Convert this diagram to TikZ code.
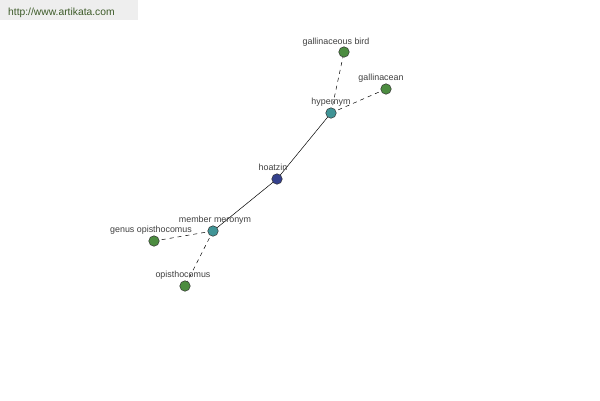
\documentclass[tikz,border=0pt]{standalone}
\usepackage{fontspec}
\setmainfont{Liberation Sans}
\definecolor{nodegreen}{RGB}{76,140,64}
\definecolor{nodeteal}{RGB}{64,148,150}
\definecolor{nodeblue}{RGB}{52,64,140}
\definecolor{labelgray}{RGB}{64,64,64}
\definecolor{urlbg}{RGB}{238,238,238}
\definecolor{urltext}{RGB}{60,90,40}
\begin{document}
\begin{tikzpicture}[x=1pt,y=-1pt,
  dot/.style={circle,draw=black!80,line width=0.5pt,minimum size=10.5pt,inner sep=0pt},
  lbl/.style={font=\fontsize{8.9}{10}\selectfont,text=labelgray,inner sep=0pt,anchor=base},
  rel/.style={line width=0.5pt,black},
  weak/.style={line width=0.5pt,black,dash pattern=on 4pt off 4pt}]
\useasboundingbox[fill=white] (0,0) rectangle (600,400);
\fill[urlbg] (0,0) rectangle (138,20);
\node[font=\fontsize{10.3}{11}\selectfont,text=urltext,anchor=base west,inner sep=0pt] (url) at (8,15) {http://www.artikata.com};

\coordinate (pGB) at (344,52);
\coordinate (pGA) at (386,89);
\coordinate (pHY) at (331,113);
\coordinate (pHO) at (277,179);
\coordinate (pMM) at (213,231);
\coordinate (pGO) at (154,241);
\coordinate (pOP) at (185,286);

\draw[rel] (pHO) -- (pHY);
\draw[rel] (pHO) -- (pMM);
\draw[weak] (pHY) -- (pGB);
\draw[weak] (pHY) -- (pGA);
\draw[weak] (pMM) -- (pGO);
\draw[weak] (pMM) -- (pOP);

\node[dot,fill=nodegreen] (gb) at (pGB) {};
\node[dot,fill=nodegreen] (ga) at (pGA) {};
\node[dot,fill=nodeteal] (hy) at (pHY) {};
\node[dot,fill=nodeblue] (ho) at (pHO) {};
\node[dot,fill=nodeteal] (mm) at (pMM) {};
\node[dot,fill=nodegreen] (go) at (pGO) {};
\node[dot,fill=nodegreen] (op) at (pOP) {};

\node[lbl] (lgb) at (336,44) {gallinaceous bird};
\node[lbl] (lga) at (381,80) {gallinacean};
\node[lbl] (lhy) at (331,104) {hypernym};
\node[lbl] (lho) at (273,170) {hoatzin};
\node[lbl] (lmm) at (215,222) {member meronym};
\node[lbl] (lgo) at (151,232) {genus opisthocomus};
\node[lbl] (lop) at (183,277) {opisthocomus};
\end{tikzpicture}
\end{document}
